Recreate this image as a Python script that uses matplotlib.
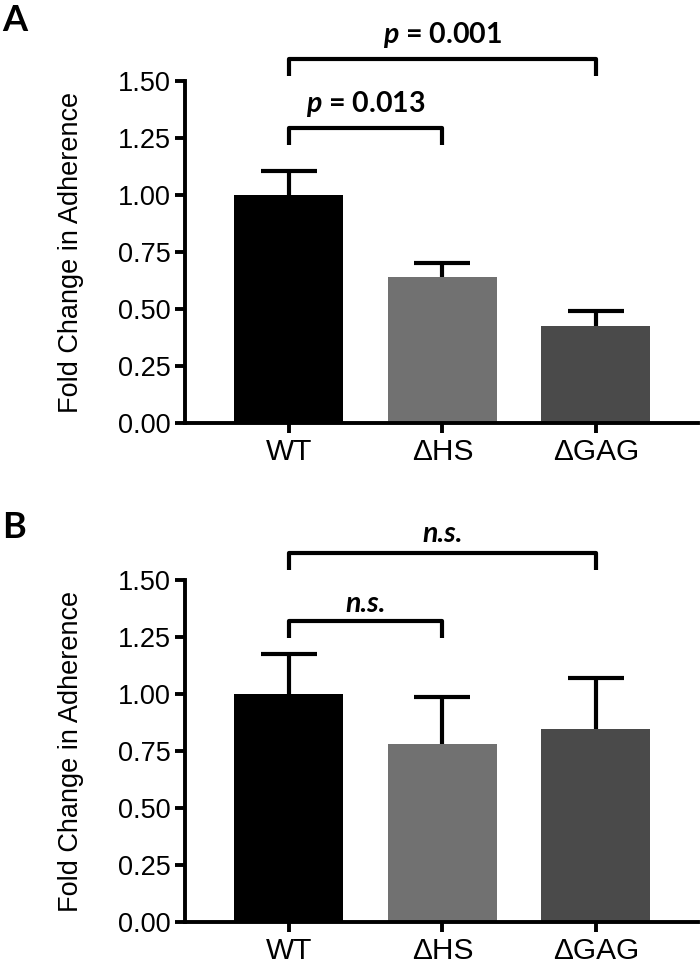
import numpy as np
import matplotlib
matplotlib.use("Agg")
import matplotlib.pyplot as plt

plt.rcParams['font.family'] = ['Liberation Sans', 'DejaVu Sans']
plt.rcParams['mathtext.fontset'] = 'custom'
plt.rcParams['mathtext.it'] = 'Lato:italic:bold'
plt.rcParams['mathtext.rm'] = 'Lato:bold'

# data
groups = ['WT', 'ΔHS', 'ΔGAG']
bar_colors = ['#000000', '#717171', '#4a4a4a']

means_a = [1.00, 0.64, 0.425]
err_a = [0.105, 0.06, 0.065]
means_b = [1.00, 0.78, 0.846]
err_b = [0.175, 0.207, 0.224]

# comparisons: (left group, right group)
comps = [(0, 1), (0, 2)]
labels_a = [r'$p$ = 0.013', r'$p$ = 0.001']
labels_b = ['n.s.', 'n.s.']

yticks = [0.0, 0.25, 0.5, 0.75, 1.0, 1.25, 1.5]


def bracket(ax, x1, x2, top, leg, text, dy, style):
    ax.plot([x1, x1, x2, x2], [top - leg, top, top, top - leg], color='black',
            lw=3, solid_joinstyle='round', solid_capstyle='butt', clip_on=False)
    ax.text((x1 + x2) / 2, top + dy, text, ha='center', va='baseline',
            fontsize=20.5, fontfamily='Lato', fontweight='bold', fontstyle=style)


def panel(ax, means, errs, labels, tops, dys, style):
    x = np.arange(len(groups))
    ax.bar(x, means, width=0.71, color=bar_colors, zorder=2)
    eb = ax.errorbar(x, means, yerr=[np.zeros(len(errs)), errs], fmt='none',
                     ecolor='black', elinewidth=3, capsize=20, capthick=3, zorder=1)
    # only the upper cap is shown
    eb[1][0].set_visible(False)
    ax.set_xlim(-0.678, 2.664)
    ax.set_ylim(0, 1.5)
    ax.set_yticks(yticks)
    ax.set_yticklabels([f'{v:.2f}' for v in yticks], fontsize=19.5)
    ax.set_xticks(x)
    ax.set_xticklabels(groups, fontsize=21.5)
    ax.spines['top'].set_visible(False)
    ax.spines['right'].set_visible(False)
    ax.spines['left'].set_linewidth(2.8)
    ax.spines['bottom'].set_linewidth(2.8)
    ax.tick_params(axis='y', length=7, width=2.8, pad=3)
    ax.tick_params(axis='x', length=7, width=2.8, pad=4)
    ax.set_ylabel('Fold Change in Adherence', fontsize=19.5)
    ax.yaxis.set_label_coords(-0.197, 0.5)
    for (i, j), lab, top, dy in zip(comps, labels, tops, dys):
        bracket(ax, i, j, top, 0.075, lab, dy, style)


fig = plt.figure(figsize=(7, 9.65), dpi=100)
ax_a = fig.add_axes([0.264, 0.5617, 0.733, 0.3544])
ax_b = fig.add_axes([0.264, 0.0446, 0.733, 0.3544])

panel(ax_a, means_a, err_a, labels_a, [1.294, 1.596], [0.07, 0.07], 'normal')
panel(ax_b, means_b, err_b, labels_b, [1.32, 1.62], [0.04, 0.045], 'italic')

fig.text(0.003, 1 - 4 / 965, 'A', fontsize=26, fontweight='bold', fontfamily='Lato', va='top')
fig.text(0.003, 1 - 511 / 965, 'B', fontsize=26, fontweight='bold', fontfamily='Lato', va='top')

fig.savefig('out.png', dpi=100)
